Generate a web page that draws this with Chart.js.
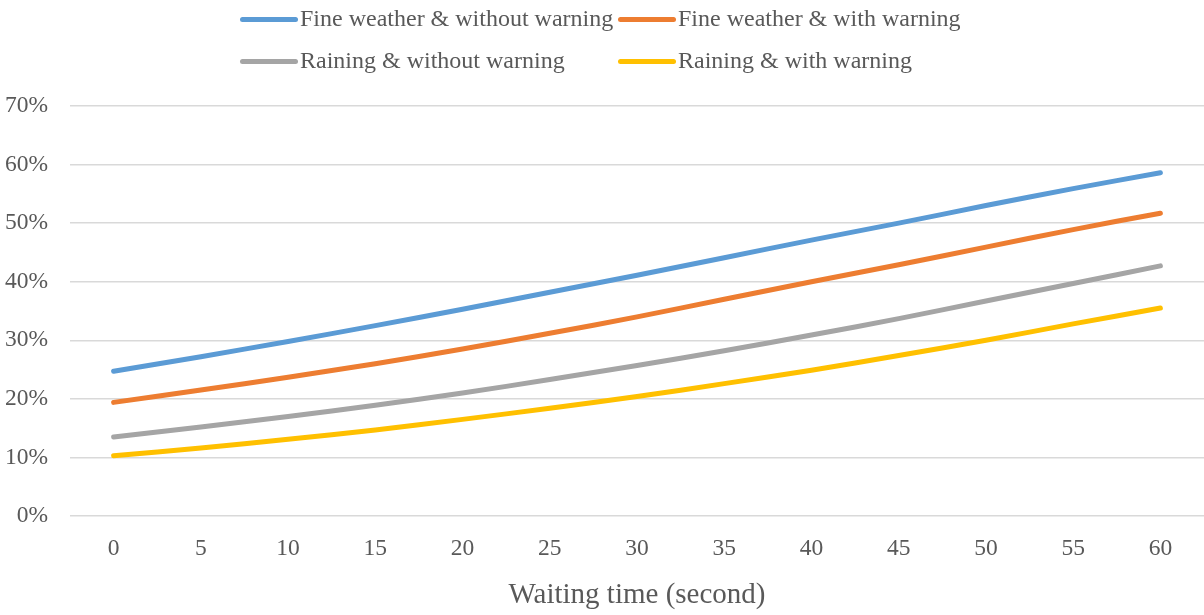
<!DOCTYPE html>
<html>
<head>
<meta charset="utf-8">
<script src="https://cdn.jsdelivr.net/npm/chart.js@4/dist/chart.umd.min.js"></script>
<style>
  body { margin: 0; background: #fff; }
  #wrap { position: relative; width: 1204px; height: 615px; }
  #legend { position: absolute; left: 0; top: 0; width: 1204px; height: 90px;
            font-family: "Liberation Serif", serif; font-size: 24px; color: #595959; }
  .item { position: absolute; white-space: nowrap; line-height: 26px; }
  .swatch { display: inline-block; width: 58px; height: 5px; border-radius: 3px;
            vertical-align: middle; margin-right: 2px; position: relative; top: -1px; }
</style>
</head>
<body>
<div id="wrap">
  <canvas id="chart" width="1204" height="615"></canvas>
  <div id="legend"></div>
</div>
<script>
// waiting time (seconds)
const waitingTime = ['0', '5', '10', '15', '20', '25', '30', '35', '40', '45', '50', '55', '60'];

// probability values (%)
const fineNoWarning = [24.7, 27.2, 29.8, 32.5, 35.3, 38.2, 41.1, 44.1, 47.1, 50.0, 53.0, 55.9, 58.6];
const fineWarning = [19.4, 21.5, 23.7, 26.0, 28.5, 31.2, 34.0, 37.0, 40.0, 42.9, 45.9, 48.9, 51.7];
const rainNoWarning = [13.5, 15.2, 17.0, 18.9, 21.0, 23.3, 25.7, 28.2, 30.9, 33.7, 36.7, 39.7, 42.7];
const rainWarning = [10.3, 11.6, 13.1, 14.7, 16.5, 18.4, 20.4, 22.6, 24.9, 27.4, 30.0, 32.8, 35.5];

const seriesNames = ['Fine weather & without warning', 'Fine weather & with warning',
                     'Raining & without warning', 'Raining & with warning'];
const seriesColors = ['#5B9BD5', '#ED7D31', '#A5A5A5', '#FFC000'];
const seriesData = [fineNoWarning, fineWarning, rainNoWarning, rainWarning];

const textColor = '#595959';
const fontFamily = '"Liberation Serif", serif';

const datasets = seriesData.map(function (values, i) {
    return {
        label: seriesNames[i],
        data: values.map(function (v) { return v / 100; }),
        borderColor: seriesColors[i],
        backgroundColor: seriesColors[i],
        borderWidth: 5,
        borderCapStyle: 'round',
        pointRadius: 0,
        tension: 0.4,
        fill: false
    };
});

// legend laid out in a 2x2 grid like the original
const legendPos = [[240, 5], [618, 5], [240, 47], [618, 47]];
const legendEl = document.getElementById('legend');
seriesNames.forEach(function (name, i) {
    const item = document.createElement('div');
    item.className = 'item';
    item.style.left = legendPos[i][0] + 'px';
    item.style.top = legendPos[i][1] + 'px';
    item.innerHTML = '<span class="swatch" style="background:' + seriesColors[i] + '"></span>' + name;
    legendEl.appendChild(item);
});

const ctx = document.getElementById('chart').getContext('2d');
new Chart(ctx, {
    type: 'line',
    data: {
        labels: waitingTime,
        datasets: datasets
    },
    options: {
        responsive: false,
        animation: false,
        layout: { padding: { top: 106, right: 0, bottom: 0, left: 0 } },
        plugins: {
            legend: { display: false },
            tooltip: { enabled: false }
        },
        scales: {
            x: {
                offset: true,
                grid: { display: false },
                border: { display: false },
                ticks: {
                    color: textColor,
                    font: { family: fontFamily, size: 23.5 },
                    padding: 11,
                    maxRotation: 0,
                    autoSkip: false
                },
                title: {
                    display: true,
                    text: 'Waiting time (second)',
                    color: textColor,
                    font: { family: fontFamily, size: 29 },
                    padding: { top: 4, bottom: 2 }
                },
                afterFit: function (scale) { scale.height = 99; }
            },
            y: {
                min: 0,
                max: 0.7,
                grid: { color: '#d9d9d9', lineWidth: 1.5, drawTicks: false },
                border: { display: false },
                ticks: {
                    stepSize: 0.1,
                    color: textColor,
                    font: { family: fontFamily, size: 23.5 },
                    padding: 22,
                    callback: function (v) { return Math.round(v * 100) + '%'; }
                },
                afterFit: function (scale) { scale.width = 70; }
            }
        }
    }
});
</script>
</body>
</html>
